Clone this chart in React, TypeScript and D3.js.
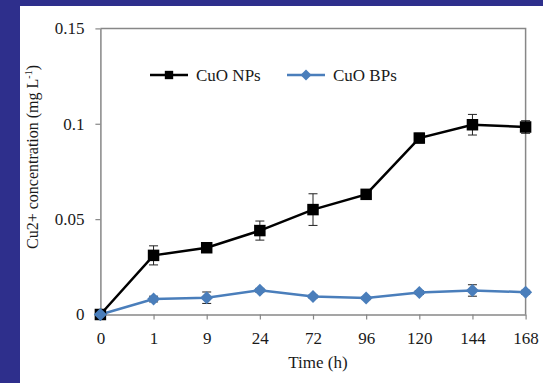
import React, { useEffect, useRef } from "react";
import * as d3 from "d3";

// categories on the x axis (hours)
const timeLabels = ["0", "1", "9", "24", "72", "96", "120", "144", "168"];
const yTicks = [0, 0.05, 0.1, 0.15];

// CuO NPs
const npValues = [0, 0.031, 0.035, 0.044, 0.055, 0.063, 0.0925, 0.0995, 0.0983];
const npErrors = [0, 0.005, 0.001, 0.005, 0.0083, 0.001, 0.0025, 0.0054, 0.0033];

// CuO BPs
const bpValues = [0, 0.0081, 0.0088, 0.0127, 0.0094, 0.0086, 0.0115, 0.0126, 0.0117];
const bpErrors = [0, 0.0015, 0.003, 0.001, 0.0008, 0.0008, 0.001, 0.003, 0.001];

const seriesNames = ["CuO NPs", "CuO BPs"];

const W = 543;
const H = 383;
const BG = "#2e2f8c";
const BLUE = "#4a7ebb";
const GRID = "#878787";
const FONT = "'Liberation Serif', 'Times New Roman', serif";

// square-ish diamond, r = half width
const diamondPath = (r: number) => `M0,${-r}L${r},0L0,${r}L${-r},0Z`;

export default function App() {
  const ref = useRef<SVGSVGElement | null>(null);

  useEffect(() => {
    document.body.style.margin = "0";
    const svg = d3.select(ref.current);
    svg.selectAll("*").remove();

    // background panel
    svg.append("rect").attr("width", W).attr("height", H).attr("fill", BG);
    svg.append("rect").attr("x", 20).attr("y", 6).attr("width", W - 20).attr("height", H - 6).attr("fill", "#fff");

    const x = d3.scalePoint<string>().domain(timeLabels).range([100.4, 525.6]);
    const y = d3.scaleLinear().domain([0, 0.15]).range([314.5, 28.4]);

    // frame top + right
    const [x0, x1] = x.range();
    const [yb, yt] = y.range();
    svg.append("path")
      .attr("d", `M${x0},${yt}H${x1}V${yb}`)
      .attr("fill", "none")
      .attr("stroke", GRID)
      .attr("stroke-width", 1.5);

    // axes
    const xAxis = d3.axisBottom(x).tickSize(5).tickSizeOuter(0).tickPadding(12);
    const yAxis = d3.axisLeft(y).tickValues(yTicks).tickSize(5).tickSizeOuter(0).tickPadding(11)
      .tickFormat((d) => String(d));

    const gx = svg.append("g").attr("transform", `translate(0,${yb})`).call(xAxis);
    const gy = svg.append("g").attr("transform", `translate(${x0},0)`).call(yAxis);
    [gx, gy].forEach((g) => {
      g.select(".domain").attr("stroke", GRID).attr("stroke-width", 1.5);
      g.selectAll(".tick line").attr("stroke", GRID).attr("stroke-width", 1.2);
      g.selectAll(".tick text")
        .attr("fill", "#1a1a1a")
        .style("font-family", FONT)
        .style("font-size", "17px");
    });

    // axis titles
    svg.append("text")
      .attr("x", 318)
      .attr("y", 368)
      .attr("text-anchor", "middle")
      .style("font-family", FONT)
      .style("font-size", "17px")
      .attr("fill", "#1a1a1a")
      .text("Time (h)");

    const yl = svg.append("text")
      .attr("transform", "translate(38,157) rotate(-90)")
      .attr("text-anchor", "middle")
      .style("font-family", FONT)
      .style("font-size", "16px")
      .attr("fill", "#1a1a1a");
    yl.append("tspan").text("Cu2+ concentration (mg L");
    yl.append("tspan").attr("dy", -6).style("font-size", "10px").text("-1");
    yl.append("tspan").attr("dy", 6).text(")");

    const line = d3.line<number>()
      .x((_, i) => x(timeLabels[i]) as number)
      .y((d) => y(d));

    const drawErrors = (vals: number[], errs: number[]) => {
      const g = svg.append("g").attr("stroke", "#222").attr("stroke-width", 1).attr("fill", "none");
      vals.forEach((v, i) => {
        if (!errs[i]) return;
        const cx = x(timeLabels[i]) as number;
        const top = y(v + errs[i]);
        const bot = y(v - errs[i]);
        g.append("path").attr("d", `M${cx},${top}V${bot}M${cx - 4.5},${top}H${cx + 4.5}M${cx - 4.5},${bot}H${cx + 4.5}`);
      });
    };

    const square = d3.symbol().type(d3.symbolSquare).size(132);

    // CuO BPs
    drawErrors(bpValues, bpErrors);
    svg.append("path").datum(bpValues).attr("d", line)
      .attr("fill", "none").attr("stroke", BLUE).attr("stroke-width", 2.5);
    svg.append("g").selectAll("path").data(bpValues).join("path")
      .attr("transform", (d, i) => `translate(${x(timeLabels[i])},${y(d)})`)
      .attr("d", diamondPath(6.5))
      .attr("fill", BLUE);

    // CuO NPs
    drawErrors(npValues, npErrors);
    svg.append("path").datum(npValues).attr("d", line)
      .attr("fill", "none").attr("stroke", "#000").attr("stroke-width", 2.5);
    svg.append("g").selectAll("path").data(npValues).join("path")
      .attr("transform", (d, i) => `translate(${x(timeLabels[i])},${y(d)})`)
      .attr("d", square())
      .attr("fill", "#000");

    // blue diamond sits on top at the origin
    svg.append("path")
      .attr("transform", `translate(${x(timeLabels[0])},${y(bpValues[0])})`)
      .attr("d", diamondPath(6.5))
      .attr("fill", BLUE);

    // legend
    const legend = [
      { name: seriesNames[0], color: "#000", mark: d3.symbol().type(d3.symbolSquare).size(70)() as string, lx: 150 },
      { name: seriesNames[1], color: BLUE, mark: diamondPath(5.5), lx: 287 },
    ];
    const lg = svg.append("g").attr("transform", "translate(0,75)");
    legend.forEach((l) => {
      lg.append("line").attr("x1", l.lx).attr("x2", l.lx + 38).attr("stroke", l.color).attr("stroke-width", 2.5);
      lg.append("path").attr("transform", `translate(${l.lx + 19},0)`).attr("d", l.mark).attr("fill", l.color);
      lg.append("text").attr("x", l.lx + 46).attr("y", 6)
        .style("font-family", FONT).style("font-size", "17px").attr("fill", "#1a1a1a")
        .text(l.name);
    });
  }, []);

  return <svg ref={ref} width={W} height={H} style={{ display: "block" }} />;
}
